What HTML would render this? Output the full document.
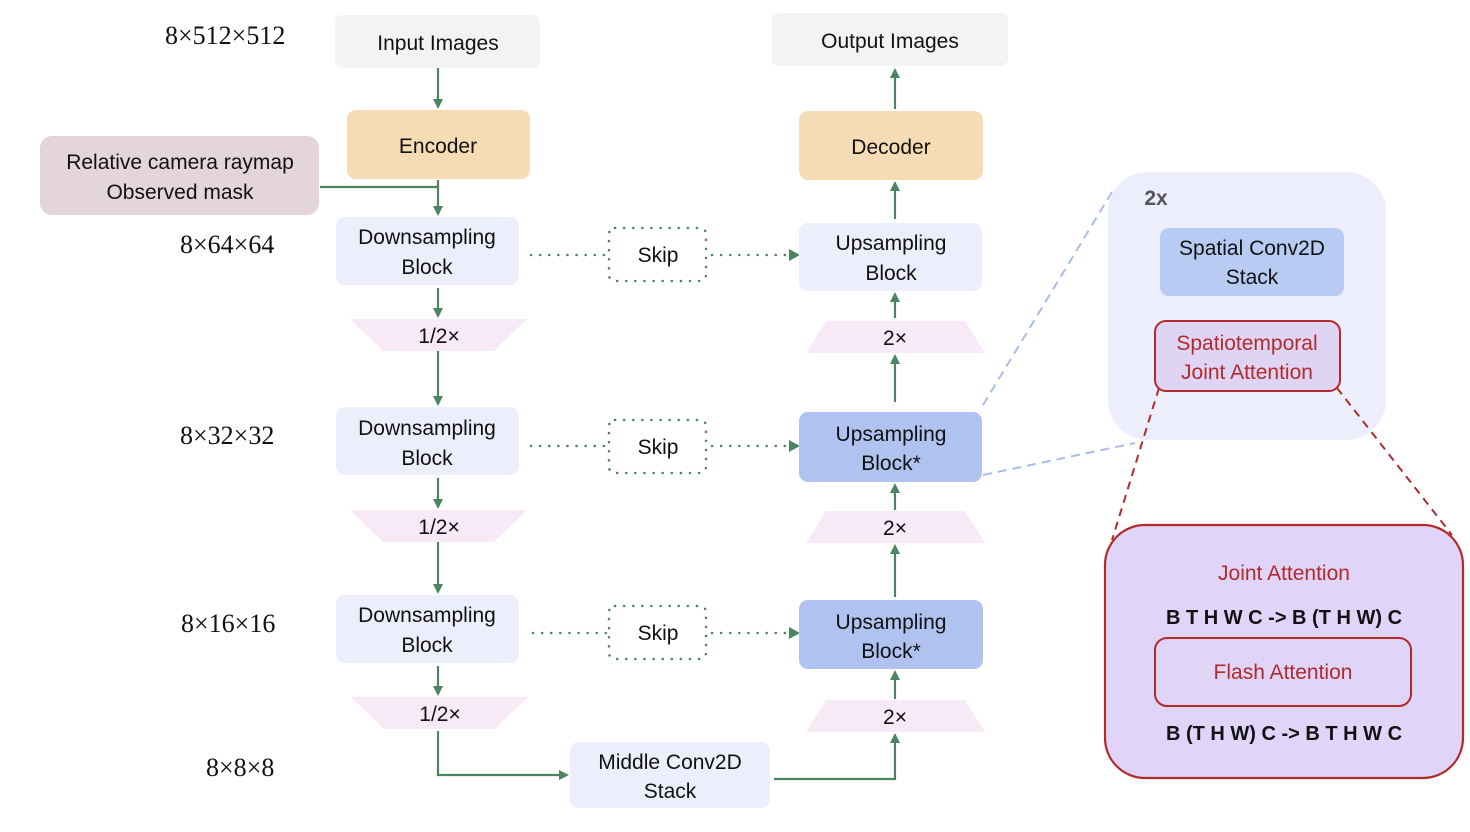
<!DOCTYPE html>
<html><head><meta charset="utf-8"><style>
html,body{margin:0;padding:0;background:#fff;width:1470px;height:832px;overflow:hidden}
svg text{font-family:"Liberation Sans",sans-serif;font-size:21px;fill:#111;text-anchor:middle}
svg text.s{font-family:"Liberation Serif",serif;font-size:26px;text-anchor:start}
svg text.r{fill:#b22a2a}
svg text.b{font-weight:bold;font-size:20px}
</style></head><body>
<svg width="1470" height="832" viewBox="0 0 1470 832" xmlns="http://www.w3.org/2000/svg">
<defs>
<marker id="a" markerWidth="10" markerHeight="10" refX="8" refY="5" orient="auto" markerUnits="userSpaceOnUse"><path d="M0,0 L10,5 L0,10 z" fill="#4a8560"/></marker>
</defs>
<!-- left dims -->
<text class="s" x="165" y="44">8×512×512</text>
<text class="s" x="180" y="253">8×64×64</text>
<text class="s" x="180" y="444">8×32×32</text>
<text class="s" x="181" y="632">8×16×16</text>
<text class="s" x="206" y="776">8×8×8</text>

<!-- connectors green -->
<g stroke="#4a8560" stroke-width="2.2" fill="none">
<line x1="438" y1="68" x2="438" y2="107" marker-end="url(#a)"/>
<line x1="438" y1="180" x2="438" y2="214" marker-end="url(#a)"/>
<line x1="320" y1="187" x2="438" y2="187"/>
<line x1="438" y1="288" x2="438" y2="316" marker-end="url(#a)"/>
<line x1="438" y1="351" x2="438" y2="404" marker-end="url(#a)"/>
<line x1="438" y1="478" x2="438" y2="507" marker-end="url(#a)"/>
<line x1="438" y1="542" x2="438" y2="592" marker-end="url(#a)"/>
<line x1="438" y1="666" x2="438" y2="694" marker-end="url(#a)"/>
<polyline points="438,731 438,775 567,775" marker-end="url(#a)"/>
<polyline points="774,779 895,779 895,735" marker-end="url(#a)"/>
<line x1="895" y1="699" x2="895" y2="672" marker-end="url(#a)"/>
<line x1="895" y1="597" x2="895" y2="546" marker-end="url(#a)"/>
<line x1="895" y1="510" x2="895" y2="485" marker-end="url(#a)"/>
<line x1="895" y1="402" x2="895" y2="356" marker-end="url(#a)"/>
<line x1="895" y1="318" x2="895" y2="294" marker-end="url(#a)"/>
<line x1="895" y1="219" x2="895" y2="183" marker-end="url(#a)"/>
<line x1="895" y1="109" x2="895" y2="70" marker-end="url(#a)"/>
</g>
<g stroke="#4a8560" stroke-width="2.5" fill="none" stroke-dasharray="0.1 9" stroke-linecap="round">
<line x1="531" y1="255" x2="606" y2="255"/>
<line x1="712" y1="255" x2="790" y2="255"/>
<line x1="531" y1="446" x2="606" y2="446"/>
<line x1="712" y1="446" x2="790" y2="446"/>
<line x1="533" y1="633" x2="606" y2="633"/>
<line x1="712" y1="633" x2="790" y2="633"/>
<rect x="609" y="228" width="97" height="53" rx="6"/>
<rect x="609" y="420" width="97" height="53" rx="6"/>
<rect x="609" y="606" width="97" height="53" rx="6"/>
</g>
<g fill="#4a8560">
<path d="M789,249 L800,255 L789,261z"/><path d="M789,440 L800,446 L789,452z"/><path d="M789,627 L800,633 L789,639z"/>
</g>
<text x="658" y="262">Skip</text><text x="658" y="454">Skip</text><text x="658" y="640">Skip</text>

<!-- boxes -->
<rect x="335" y="15" width="205" height="53" rx="7" fill="#f3f3f3"/><text x="438" y="50">Input Images</text>
<rect x="772" y="13" width="236" height="53" rx="7" fill="#f3f3f3"/><text x="890" y="48">Output Images</text>
<rect x="347" y="110" width="183" height="69" rx="9" fill="#f5dcb4"/><text x="438" y="153">Encoder</text>
<rect x="799" y="111" width="184" height="69" rx="9" fill="#f5dcb4"/><text x="891" y="154">Decoder</text>
<rect x="40" y="136" width="279" height="79" rx="12" fill="#e4d4dc"/><text x="180" y="169">Relative camera raymap</text><text x="180" y="199">Observed mask</text>

<g fill="#eceefb">
<rect x="336" y="217" width="183" height="68" rx="9"/><rect x="336" y="407" width="183" height="68" rx="9"/><rect x="336" y="595" width="183" height="68" rx="9"/>
<rect x="799" y="223" width="183" height="68" rx="9"/><rect x="570" y="742" width="200" height="66" rx="9"/>
</g>
<text x="427" y="244">Downsampling</text><text x="427" y="274">Block</text>
<text x="427" y="435">Downsampling</text><text x="427" y="465">Block</text>
<text x="427" y="622">Downsampling</text><text x="427" y="652">Block</text>
<text x="891" y="250">Upsampling</text><text x="891" y="280">Block</text>
<text x="670" y="769">Middle Conv2D</text><text x="670" y="798">Stack</text>
<g fill="#b0c2f0"><rect x="799" y="412" width="183" height="70" rx="9"/><rect x="799" y="600" width="184" height="69" rx="9"/></g>
<text x="891" y="441">Upsampling</text><text x="891" y="470">Block*</text>
<text x="891" y="629">Upsampling</text><text x="891" y="658">Block*</text>

<!-- trapezoids -->
<g fill="#f8e9f6">
<polygon points="350,319 527,319 494,351 383,351"/><polygon points="350,510 527,510 494,542 383,542"/><polygon points="351,697 528,697 495,729 384,729"/>
<polygon points="826,321 965,321 985,353 806,353"/><polygon points="826,511 965,511 985,543 806,543"/><polygon points="826,700 965,700 985,732 806,732"/>
</g>
<text x="439" y="343">1/2×</text><text x="439" y="534">1/2×</text><text x="440" y="721">1/2×</text>
<text x="895" y="345">2×</text><text x="895" y="535">2×</text><text x="895" y="724">2×</text>

<!-- right panel -->
<g stroke="#a8bcef" stroke-width="2" stroke-dasharray="9 6" fill="none">
<line x1="983" y1="405" x2="1112" y2="192"/><line x1="983" y1="475" x2="1135" y2="443"/>
</g>
<rect x="1108" y="172" width="278" height="268" rx="40" fill="#eceefb"/>
<text x="1156" y="205" class="b" style="fill:#555;font-size:21px">2x</text>
<rect x="1160" y="228" width="184" height="68" rx="9" fill="#b8cbf3"/>
<text x="1252" y="255">Spatial Conv2D</text><text x="1252" y="284">Stack</text>
<g stroke="#b22a2a" stroke-width="2" stroke-dasharray="8 6" fill="none">
<line x1="1159" y1="388" x2="1112" y2="540"/><line x1="1337" y1="388" x2="1452" y2="535"/>
</g>
<rect x="1155" y="321" width="185" height="70" rx="11" fill="#e0d4f5" stroke="#b22a2a" stroke-width="2"/>
<text x="1247" y="350" class="r">Spatiotemporal</text><text x="1247" y="379" class="r">Joint Attention</text>
<rect x="1105" y="525" width="358" height="253" rx="40" fill="#e0d4f8" stroke="#b22a2a" stroke-width="2.2"/>
<text x="1284" y="580" class="r">Joint Attention</text>
<text x="1284" y="624" class="b">B T H W C -&gt; B (T H W) C</text>
<rect x="1155" y="638" width="256" height="68" rx="12" fill="none" stroke="#b22a2a" stroke-width="2"/>
<text x="1283" y="679" class="r">Flash Attention</text>
<text x="1284" y="740" class="b">B (T H W)  C -&gt; B T H W C</text>
</svg>
</body></html>
